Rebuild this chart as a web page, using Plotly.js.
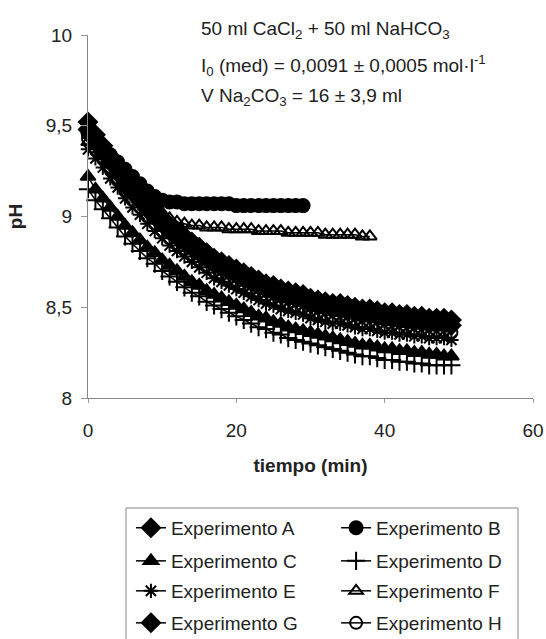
<!DOCTYPE html>
<html>
<head>
<meta charset="utf-8">
<script src="https://cdn.plot.ly/plotly-3.0.1.min.js"></script>
<style>html,body{margin:0;padding:0;background:#fff;}#chart{width:546px;height:639px;}</style>
</head>
<body>
<div id="chart"></div>
<script>
// time (min)
const tiempo = [0,1,2,3,4,5,6,7,8,9,10,11,12,13,14,15,16,17,18,19,20,21,22,23,24,25,26,27,28,29,30,31,32,33,34,35,36,37,38,39,40,41,42,43,44,45,46,47,48,49];

const names = ["Experimento A","Experimento B","Experimento C","Experimento D","Experimento E","Experimento F","Experimento G","Experimento H"];

const phA = [9.52,9.45,9.39,9.33,9.27,9.21,9.16,9.12,9.07,9.03,8.99,8.95,8.92,8.89,8.86,8.83,8.80,8.77,8.75,8.73,8.71,8.69,8.67,8.65,8.63,8.62,8.60,8.59,8.58,8.57,8.55,8.54,8.53,8.52,8.52,8.51,8.50,8.49,8.49,8.48,8.47,8.47,8.46,8.46,8.45,8.45,8.44,8.44,8.44,8.43];
const phB = [9.46,9.42,9.38,9.34,9.30,9.26,9.22,9.18,9.14,9.11,9.09,9.08,9.08,9.07,9.07,9.07,9.07,9.07,9.07,9.07,9.06,9.06,9.06,9.06,9.06,9.06,9.06,9.06,9.06,9.06];
const phC = [9.22,9.15,9.10,9.05,9.00,8.95,8.91,8.87,8.83,8.80,8.76,8.73,8.70,8.67,8.64,8.62,8.59,8.57,8.55,8.53,8.51,8.49,8.47,8.45,8.44,8.42,8.41,8.39,8.38,8.37,8.36,8.35,8.34,8.33,8.32,8.31,8.30,8.29,8.29,8.28,8.27,8.27,8.26,8.26,8.25,8.25,8.24,8.24,8.23,8.23];
const phD = [9.15,9.09,9.04,8.99,8.94,8.89,8.85,8.81,8.77,8.74,8.70,8.67,8.64,8.61,8.58,8.56,8.53,8.51,8.49,8.47,8.45,8.43,8.41,8.39,8.38,8.36,8.35,8.33,8.32,8.31,8.30,8.29,8.28,8.27,8.26,8.25,8.24,8.23,8.23,8.22,8.21,8.21,8.20,8.20,8.19,8.19,8.18,8.18,8.18,8.18];
const phE = [9.37,9.32,9.27,9.21,9.16,9.10,9.05,9.01,8.96,8.92,8.88,8.84,8.81,8.78,8.75,8.72,8.69,8.66,8.64,8.62,8.60,8.58,8.56,8.54,8.52,8.51,8.49,8.48,8.47,8.46,8.44,8.43,8.42,8.41,8.41,8.40,8.39,8.38,8.38,8.37,8.36,8.36,8.35,8.35,8.34,8.34,8.33,8.33,8.33,8.32];
const phF = [9.41,9.37,9.33,9.29,9.25,9.21,9.17,9.13,9.09,9.05,9.02,8.99,8.97,8.96,8.95,8.95,8.94,8.94,8.94,8.93,8.93,8.93,8.93,8.92,8.92,8.92,8.92,8.91,8.91,8.91,8.91,8.91,8.90,8.90,8.90,8.90,8.90,8.89,8.89];
const phG = [9.48,9.42,9.36,9.30,9.24,9.18,9.13,9.09,9.04,9.00,8.96,8.92,8.89,8.86,8.83,8.80,8.77,8.74,8.72,8.70,8.68,8.66,8.64,8.62,8.60,8.59,8.57,8.56,8.55,8.54,8.52,8.51,8.50,8.49,8.49,8.48,8.47,8.46,8.46,8.45,8.44,8.44,8.43,8.43,8.42,8.42,8.41,8.41,8.41,8.40];
const phH = [9.43,9.37,9.32,9.26,9.20,9.14,9.09,9.05,9.00,8.96,8.92,8.88,8.85,8.82,8.79,8.76,8.73,8.70,8.68,8.66,8.64,8.62,8.60,8.58,8.56,8.55,8.53,8.52,8.51,8.50,8.48,8.47,8.46,8.45,8.45,8.44,8.43,8.42,8.42,8.41,8.40,8.40,8.39,8.39,8.38,8.38,8.37,8.37,8.37,8.36];

const xTickVals = [0,20,40,60];
const yTickVals = [8,8.5,9,9.5,10];

const seriesY = [phA,phB,phC,phD,phE,phF,phG,phH];
const symbols = ["diamond","circle","triangle-up","cross-thin-open","asterisk-open","triangle-up-open","diamond","circle-open"];
const sizes = [14,13,13,13,12,12,14,12];

const FONT = "Liberation Sans, Arial, sans-serif";
const TXT = "#222";

const legendIds = ["legend","legend2","legend3","legend4","legend5","legend6","legend7","legend8"];

const traces = seriesY.map((ys,i)=>({
  type:"scatter",
  mode:"lines+markers",
  name:names[i],
  legend:legendIds[i],
  x:tiempo.slice(0,ys.length),
  y:ys,
  line:{color:"#000",width:1.5},
  marker:{symbol:symbols[i],size:sizes[i],color:"#000",line:{color:"#000",width:2}},
  cliponaxis:false
}));

// legend cell positions (paper coords): two columns, four rows
const colX = [0.0965,0.5575];
const rowY = [-0.3055,-0.3967,-0.4793,-0.5675];

const layout = {
  width:546,height:639,
  margin:{l:88,r:13,t:35,b:241,autoexpand:false},
  paper_bgcolor:"#fff",plot_bgcolor:"#fff",
  separators:",.",
  font:{family:FONT,size:19,color:TXT},
  showlegend:true,
  xaxis:{
    range:[0,60],tickvals:xTickVals,ticks:"outside",ticklen:4,tickcolor:"#999",
    showline:true,linecolor:"#888",linewidth:1,showgrid:false,zeroline:false,
    ticklabelstandoff:11,tickfont:{family:FONT,size:19,color:TXT},
    title:{text:"tiempo (min)",font:{family:FONT,size:19,color:TXT,weight:"bold"},standoff:18}
  },
  yaxis:{
    range:[8,10],tickvals:yTickVals,ticks:"outside",ticklen:6,tickcolor:"#999",
    showline:true,linecolor:"#888",linewidth:1,showgrid:false,zeroline:false,
    ticklabelstandoff:5,tickfont:{family:FONT,size:19,color:TXT},
    title:{text:"pH",font:{family:FONT,size:19,color:TXT,weight:"bold"},standoff:18}
  },
  shapes:[
    {type:"rect",xref:"paper",yref:"paper",x0:0.0854,x1:0.9663,y0:-0.303,y1:-0.72,
     line:{color:"#888",width:1},fillcolor:"rgba(0,0,0,0)",layer:"below"}
  ],
  annotations:[
    {xref:"paper",yref:"paper",x:0.25,y:1.014,xanchor:"left",yanchor:"middle",showarrow:false,
     text:"50 ml CaCl<sub>2</sub> + 50 ml NaHCO<sub>3</sub>",font:{family:FONT,size:19,color:TXT}},
    {xref:"paper",yref:"paper",x:0.25,y:0.917,xanchor:"left",yanchor:"middle",showarrow:false,
     text:"I<sub>0</sub> (med) = 0,0091 ± 0,0005 mol·l<sup>-1</sup>",font:{family:FONT,size:19,color:TXT}},
    {xref:"paper",yref:"paper",x:0.25,y:0.829,xanchor:"left",yanchor:"middle",showarrow:false,
     text:"V Na<sub>2</sub>CO<sub>3</sub> = 16 ± 3,9 ml",font:{family:FONT,size:19,color:TXT}}
  ]
};

legendIds.forEach((id,i)=>{
  layout[id] = {
    orientation:"v",xref:"paper",yref:"paper",
    x:colX[i%2],xanchor:"left",y:rowY[Math.floor(i/2)],yanchor:"top",
    bgcolor:"rgba(0,0,0,0)",borderwidth:0,itemsizing:"trace",
    font:{family:FONT,size:19,color:TXT}
  };
});

Plotly.newPlot("chart",traces,layout,{displayModeBar:false,staticPlot:true});
</script>
</body>
</html>
